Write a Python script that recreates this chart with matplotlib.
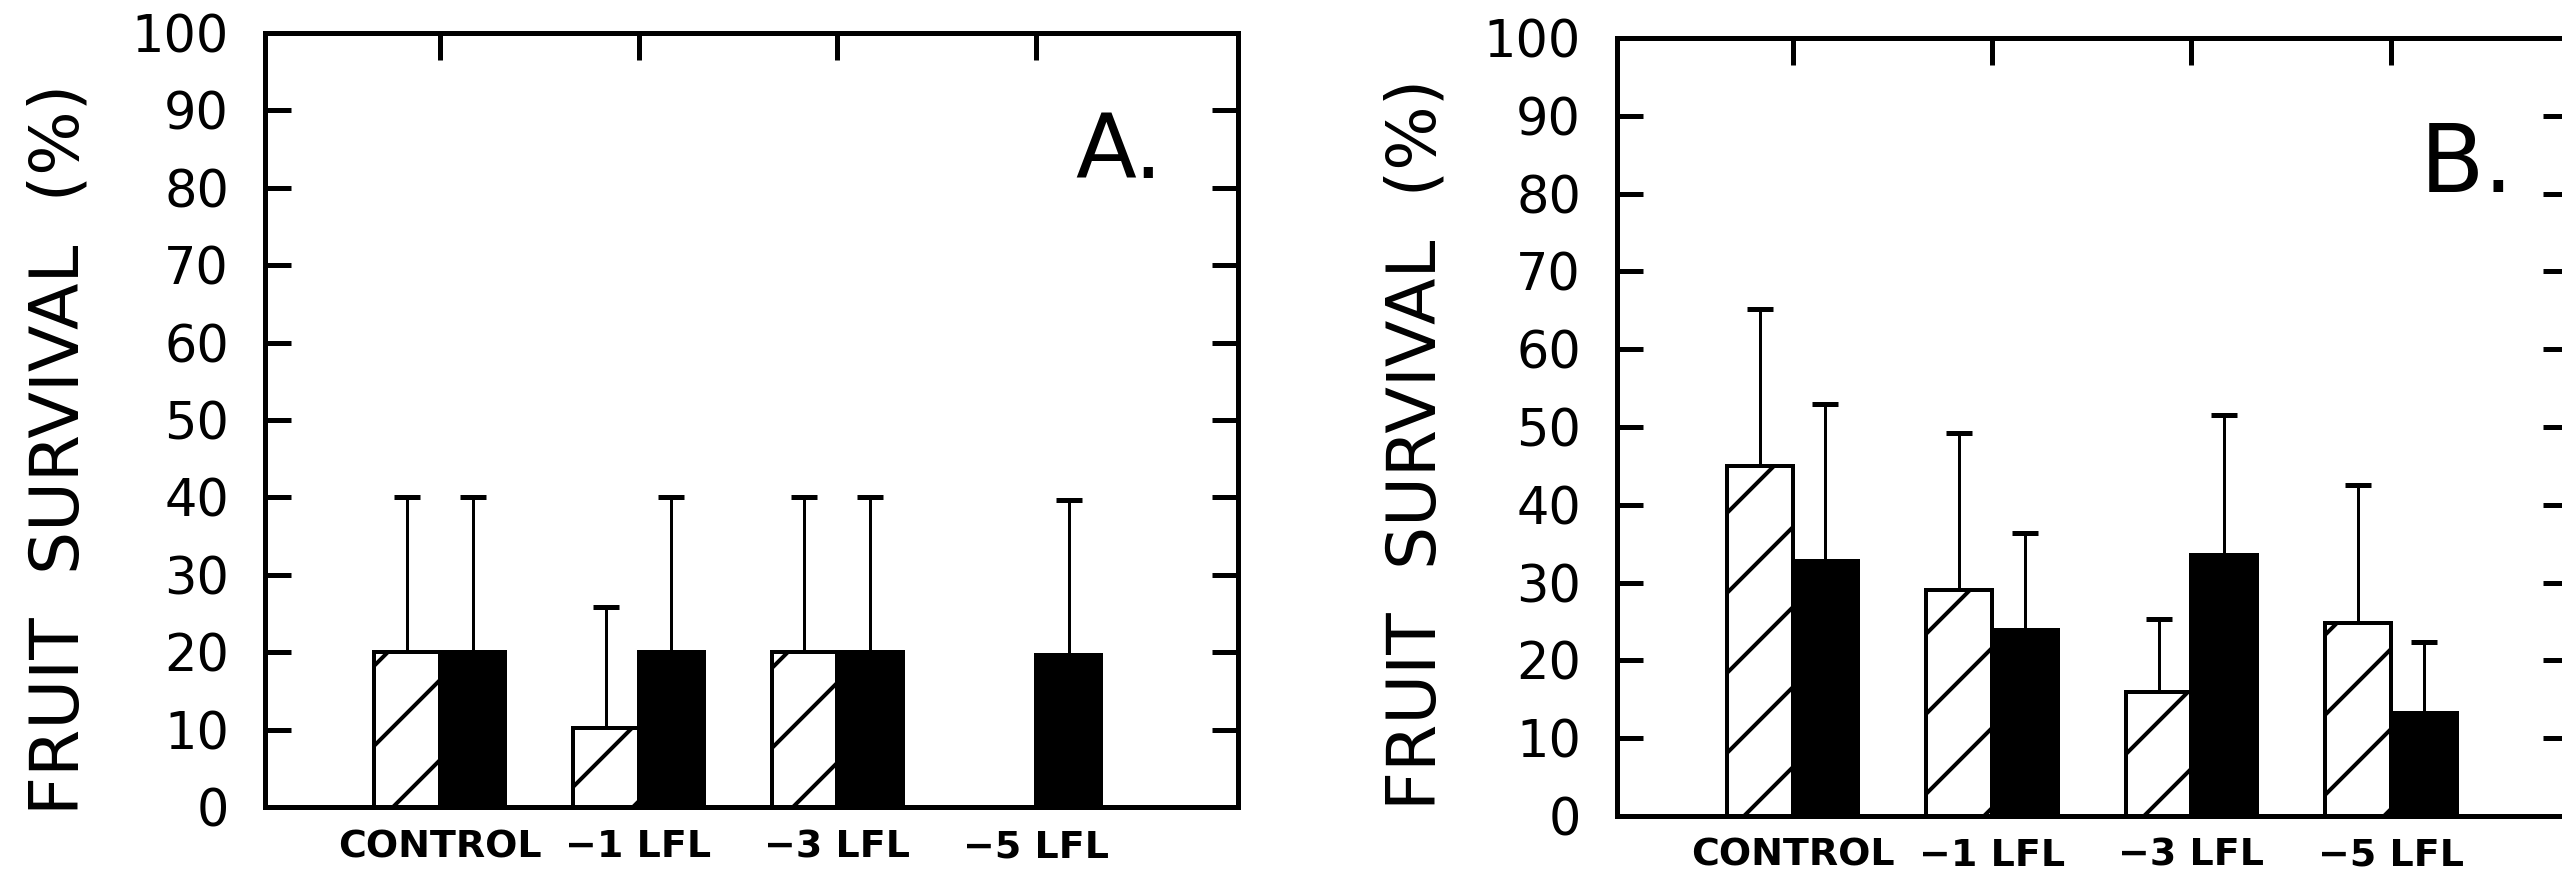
import numpy as np
import matplotlib
matplotlib.use("Agg")
import matplotlib.pyplot as plt

# data
categories = ["CONTROL", "\u22121 LFL", "\u22123 LFL", "\u22125 LFL"]

a_hatched = [20.0, 10.2, 20.0, 0.0]
a_hatched_top = [40.0, 25.8, 40.0, 0.0]
a_black = [20.0, 20.0, 20.0, 19.6]
a_black_top = [40.0, 40.0, 40.0, 39.6]

b_hatched = [45.0, 29.0, 16.0, 24.8]
b_hatched_top = [65.2, 49.2, 25.3, 42.5]
b_black = [32.8, 23.9, 33.5, 13.2]
b_black_top = [52.9, 36.4, 51.6, 22.4]

yticks = np.arange(0, 101, 10)

W, H = 2562, 887
DPI = 240          # also sets the hatch spacing
PX = 72.0 / DPI    # one pixel in points

plt.rcParams['font.family'] = ['DejaVu Sans']
plt.rcParams['hatch.linewidth'] = 4 * PX
plt.rcParams['hatch.color'] = 'black'

fig = plt.figure(figsize=(W / DPI, H / DPI), dpi=DPI)
fig.patch.set_facecolor('white')


def panel(rect, xmax, hatched, hatched_top, black, black_top, letter, letter_xy, letter_px, label_xy):
    ax = fig.add_axes(rect)
    x = np.arange(1, len(categories) + 1)
    w = 0.33

    ax.bar(x - w / 2, hatched, w, facecolor='white', edgecolor='black',
           hatch='/', linewidth=4 * PX, zorder=2)
    ax.bar(x + w / 2, black, w, facecolor='black', edgecolor='black',
           linewidth=4 * PX, zorder=2)

    # upper error bars only
    for xs, vals, tops in [(x - w / 2, hatched, hatched_top), (x + w / 2, black, black_top)]:
        vals = np.array(vals)
        tops = np.array(tops)
        m = tops > vals
        err = tops[m] - vals[m]
        ax.errorbar(xs[m], vals[m], yerr=[np.zeros_like(err), err], fmt='none',
                    ecolor='black', elinewidth=3 * PX, capsize=13 * PX,
                    capthick=5 * PX, zorder=1)

    ax.set_xlim(0.12, xmax)
    ax.set_ylim(0, 100)
    ax.set_yticks(yticks)
    ax.set_xticks(x)
    ax.set_xticklabels(categories, fontsize=38 * PX, fontweight='bold')
    ax.tick_params(axis='x', direction='in', bottom=False, top=True,
                   length=27 * PX, width=5 * PX, pad=22 * PX)
    ax.tick_params(axis='y', direction='in', left=True, right=True,
                   length=26 * PX, width=5 * PX, pad=36 * PX, labelsize=51 * PX)
    for s in ax.spines.values():
        s.set_linewidth(5 * PX)

    ax.set_ylabel("FRUIT  SURVIVAL  (%)", fontsize=68 * PX)
    ax.yaxis.set_label_coords(label_xy[0], label_xy[1])

    ax.text(letter_xy[0], letter_xy[1], letter, transform=ax.transAxes,
            fontsize=letter_px * PX, va='baseline', ha='left')
    return ax


# axes placed in pixel units of the 2562x887 picture
a_left, a_right, a_top, a_bot = 265, 1238, 33, 807
b_left, b_right, b_top, b_bot = 1617, 2569, 38, 816

panel([a_left / W, 1 - a_bot / H, (a_right - a_left) / W, (a_bot - a_top) / H],
      5.017, a_hatched, a_hatched_top, a_black, a_black_top,
      "A.", (0.8325, 0.813), 89, (-0.177, 0.4625))
panel([b_left / W, 1 - b_bot / H, (b_right - b_left) / W, (b_bot - b_top) / H],
      4.893, b_hatched, b_hatched_top, b_black, b_black_top,
      "B.", (0.8435, 0.802), 94, (-0.176, 0.478))

fig.savefig("out.png", dpi=DPI, facecolor='white')
